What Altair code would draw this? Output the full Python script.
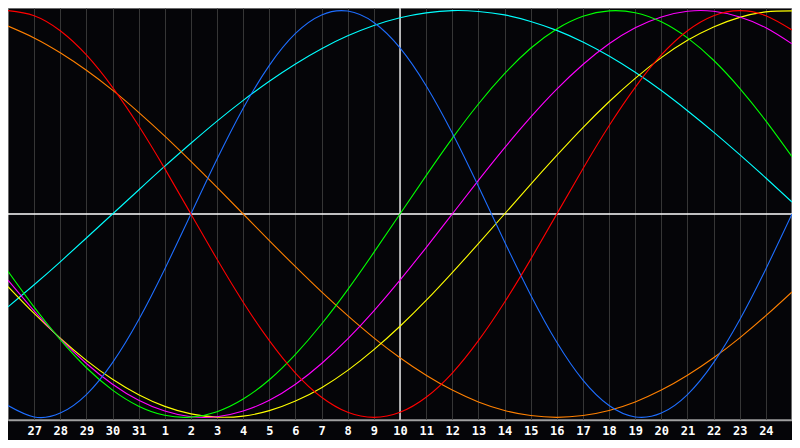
import altair as alt
import pandas as pd

# Day labels for positions 0..30 along the x axis
day_labels = ["26", "27", "28", "29", "30", "31", "1", "2", "3", "4", "5", "6", "7", "8",
              "9", "10", "11", "12", "13", "14", "15", "16", "17", "18", "19", "20",
              "21", "22", "23", "24", "25"]
shown_ticks = list(range(1, 30))
marker_day = "10"

# Curve values read per day (position 0..30), range -1..1
blue = [-0.942, -0.998, -0.979, -0.888, -0.731, -0.520, -0.270, 0.0, 0.270, 0.520,
        0.731, 0.888, 0.979, 0.998, 0.942, 0.817, 0.631, 0.398, 0.136, -0.136,
        -0.398, -0.631, -0.817, -0.942, -0.998, -0.979, -0.888, -0.731, -0.520, -0.270, 0.0]
red = [1.0, 0.975, 0.901, 0.782, 0.623, 0.434, 0.223, 0.0, -0.223, -0.434,
       -0.623, -0.782, -0.901, -0.975, -1.0, -0.975, -0.901, -0.782, -0.623, -0.434,
       -0.223, 0.0, 0.223, 0.434, 0.623, 0.782, 0.901, 0.975, 1.0, 0.975, 0.905]
green = [-0.282, -0.458, -0.618, -0.756, -0.866, -0.945, -0.990, -0.999, -0.972, -0.910,
         -0.815, -0.690, -0.541, -0.372, -0.189, 0.0, 0.189, 0.372, 0.541, 0.690,
         0.815, 0.910, 0.972, 0.999, 0.990, 0.945, 0.866, 0.756, 0.618, 0.458, 0.282]
magenta = [-0.325, -0.476, -0.614, -0.735, -0.837, -0.916, -0.969, -0.997, -0.997, -0.969,
           -0.916, -0.837, -0.735, -0.614, -0.476, -0.325, -0.165, 0.0, 0.165, 0.325,
           0.476, 0.614, 0.735, 0.837, 0.916, 0.969, 0.997, 0.997, 0.969, 0.916, 0.837]
yellow = [-0.357, -0.489, -0.611, -0.720, -0.813, -0.889, -0.946, -0.983, -0.999, -0.994,
          -0.967, -0.920, -0.854, -0.769, -0.667, -0.552, -0.425, -0.288, -0.146, 0.0,
          0.146, 0.288, 0.425, 0.552, 0.667, 0.769, 0.854, 0.920, 0.967, 0.994, 0.999]
cyan = [-0.457, -0.348, -0.235, -0.118, 0.0, 0.118, 0.235, 0.348, 0.457, 0.559,
        0.653, 0.738, 0.813, 0.876, 0.927, 0.965, 0.989, 1.0, 0.996, 0.979,
        0.947, 0.903, 0.846, 0.777, 0.697, 0.607, 0.508, 0.403, 0.292, 0.177, 0.059]
orange = [0.924, 0.866, 0.793, 0.707, 0.609, 0.5, 0.383, 0.259, 0.131, 0.0,
          -0.131, -0.259, -0.383, -0.5, -0.609, -0.707, -0.793, -0.866, -0.924, -0.966,
          -0.991, -1.0, -0.991, -0.966, -0.924, -0.866, -0.793, -0.707, -0.609, -0.5, -0.383]

series_names = ["cyan", "orange", "yellow", "magenta", "green", "blue", "red"]
series_values = [cyan, orange, yellow, magenta, green, blue, red]
series_colors = ["#00ffff", "#ff8000", "#ffff00", "#ff00ff", "#00ff00", "#1e6eff", "#ff0000"]

rows = []
for name, vals in zip(series_names, series_values):
    for i, v in enumerate(vals):
        rows.append({"pos": i, "value": v, "series": name})
df = pd.DataFrame(rows)

xscale = alt.Scale(domain=[0, len(day_labels) - 1], nice=False, zero=False)
yscale = alt.Scale(domain=[-1.013, 1.013], nice=False, zero=False)

label_expr = "[" + ",".join("'%s'" % d for d in day_labels) + "][datum.value]"
xaxis = alt.Axis(
    values=shown_ticks, labelExpr=label_expr, title=None,
    grid=True, gridColor="#363636", gridWidth=1,
    ticks=False, domain=True, domainColor="#a0a0a0", domainWidth=1.5,
    labelColor="#ffffff", labelFont="DejaVu Sans Mono", labelFontWeight="bold",
    labelFontSize=12, labelPadding=5, labelBaseline="top", labelAlign="center",
)

lines = alt.Chart(df).mark_line(strokeWidth=1.1, interpolate="natural").encode(
    x=alt.X("pos:Q", scale=xscale, axis=xaxis),
    y=alt.Y("value:Q", scale=yscale, axis=None),
    color=alt.Color("series:N", scale=alt.Scale(domain=series_names, range=series_colors), legend=None),
    detail="series:N",
)

vrule = alt.Chart(pd.DataFrame({"pos": [day_labels.index(marker_day)]})).mark_rule(
    color="#ffffff", strokeWidth=1.3
).encode(x=alt.X("pos:Q", scale=xscale, axis=xaxis))

hrule = alt.Chart(pd.DataFrame({"value": [0.0]})).mark_rule(
    color="#ffffff", strokeWidth=1.3
).encode(y=alt.Y("value:Q", scale=yscale, axis=None))

chart = alt.layer(vrule, hrule, lines).properties(
    width=784, height=412,
    autosize=alt.AutoSizeParams(type="none"),
    padding={"left": 0, "top": 0, "right": 0, "bottom": 20},
).configure(background="#050508").configure_view(stroke="#8a8a8a", strokeWidth=1.5)

chart.save("out.html", embed_options={"renderer": "svg", "actions": False})
